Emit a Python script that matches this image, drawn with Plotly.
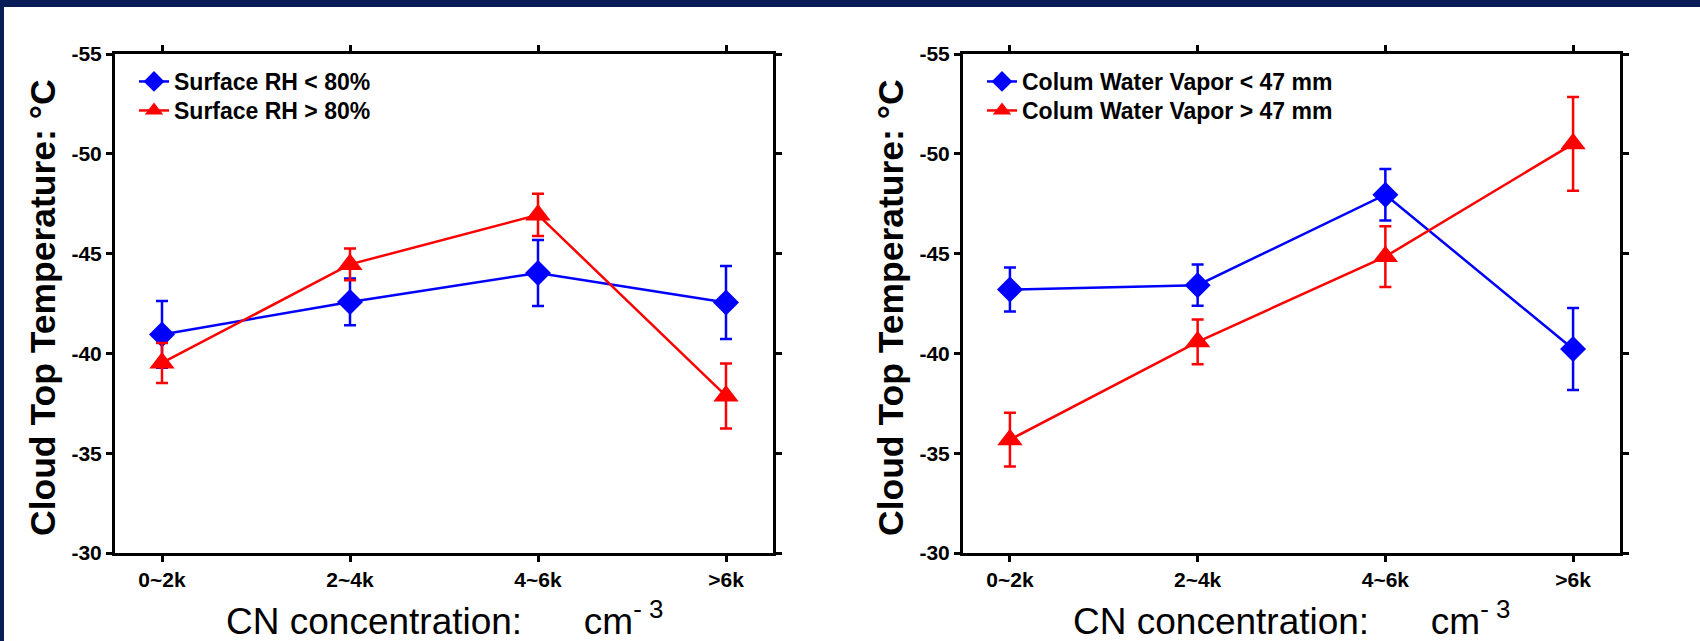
import plotly.graph_objects as go

W, H = 1700, 641

categories = ["0~2k", "2~4k", "4~6k", ">6k"]

# Left panel: Surface RH
rh_low = [-40.95, -42.58, -44.03, -42.55]
rh_low_err = [1.67, 1.17, 1.65, 1.83]
rh_high = [-39.52, -44.46, -46.94, -37.87]
rh_high_err = [1.0, 0.8, 1.06, 1.63]

# Right panel: Column water vapor
cwv_low = [-43.2, -43.42, -47.95, -40.22]
cwv_low_err = [1.1, 1.03, 1.29, 2.05]
cwv_high = [-35.68, -40.58, -44.85, -50.5]
cwv_high_err = [1.35, 1.12, 1.52, 2.35]

y_ticks = [-55, -50, -45, -40, -35, -30]
y_tick_labels = ["-55", "-50", "-45", "-40", "-35", "-30"]

names_left = ["Surface RH < 80%", "Surface RH > 80%"]
names_right = ["Colum Water Vapor < 47 mm", "Colum Water Vapor > 47 mm"]

BLUE = "#0000ff"
RED = "#ff0000"
NAVY = "#0a1c58"
FONT = "Liberation Sans, Arial, sans-serif"
NARROW = "Liberation Sans Narrow, Arial Narrow, Liberation Sans, sans-serif"

def px_x(p):
    return p / W

def px_y(p):
    return 1 - p / H

fig = go.Figure()

def add_pair(xa, ya, lgs, low, low_err, high, high_err, names):
    fig.add_trace(go.Scatter(
        x=categories, y=low, name=names[0], mode="lines+markers",
        xaxis=xa, yaxis=ya, legend=lgs[0],
        line=dict(color=BLUE, width=2.5),
        marker=dict(symbol="diamond", size=20, color=BLUE),
        error_y=dict(type="data", array=low_err, visible=True, color=BLUE, thickness=2.5, width=6),
    ))
    fig.add_trace(go.Scatter(
        x=categories, y=high, name=names[1], mode="lines+markers",
        xaxis=xa, yaxis=ya, legend=lgs[1],
        line=dict(color=RED, width=2.5),
        marker=dict(symbol="triangle-up", size=22, color=RED),
        error_y=dict(type="data", array=high_err, visible=True, color=RED, thickness=2.5, width=6),
    ))

add_pair("x", "y", ("legend", "legend2"), rh_low, rh_low_err, rh_high, rh_high_err, names_left)
add_pair("x2", "y2", ("legend3", "legend4"), cwv_low, cwv_low_err, cwv_high, cwv_high_err, names_right)

y_top, y_bot = 54, 553
xdoms = [(115, 773), (963, 1620)]

axis_common = dict(
    showline=True, linecolor="black", linewidth=3, mirror="ticks",
    ticks="outside", ticklen=6, tickwidth=3, tickcolor="black",
    showgrid=False, zeroline=False,
    tickfont=dict(family=NARROW, size=21, color="black", weight="bold"),
)

for i, (l, r) in enumerate(xdoms):
    sfx = "" if i == 0 else str(i + 1)
    fig.layout["xaxis" + sfx] = dict(
        axis_common, domain=[px_x(l), px_x(r)], anchor="y" + sfx,
        type="category", range=[-0.25, 3.25],
        categoryorder="array", categoryarray=categories,
    )
    fig.layout["yaxis" + sfx] = dict(
        axis_common, domain=[px_y(y_bot), px_y(y_top)], anchor="x" + sfx,
        range=[-30, -55], tickmode="array", tickvals=y_ticks, ticktext=y_tick_labels,
    )

annotations = []
for (l, r) in xdoms:
    annotations.append(dict(
        xref="paper", yref="paper", x=px_x(l - 72), y=px_y(308),
        text="Cloud Top Temperature: °C", textangle=-90, showarrow=False,
        xanchor="center", yanchor="middle",
        font=dict(family=FONT, size=35.5, color="black", weight="bold"),
    ))
    annotations.append(dict(
        xref="paper", yref="paper", x=px_x((l + r) / 2), y=px_y(618),
        text="CN concentration:&nbsp;&nbsp;&nbsp;&nbsp;&nbsp; cm<sup>- 3</sup>",
        showarrow=False, xanchor="center", yanchor="middle",
        font=dict(family=NARROW, size=37, color="black"),
    ))

legend_common = dict(
    bgcolor="rgba(0,0,0,0)", borderwidth=0,
    font=dict(family=FONT, size=23, color="black", weight="bold"),
    xanchor="left", yanchor="top", tracegroupgap=0, itemsizing="trace",
)

row_tops = [60, 89]
fig.update_layout(
    width=W, height=H,
    margin=dict(l=0, r=0, t=0, b=0, autoexpand=False),
    paper_bgcolor=NAVY, plot_bgcolor="white",
    showlegend=True,
    legend=dict(legend_common, x=px_x(134), y=px_y(row_tops[0])),
    legend2=dict(legend_common, x=px_x(134), y=px_y(row_tops[1])),
    legend3=dict(legend_common, x=px_x(982), y=px_y(row_tops[0])),
    legend4=dict(legend_common, x=px_x(982), y=px_y(row_tops[1])),
    annotations=annotations,
    shapes=[dict(type="rect", xref="paper", yref="paper",
                 x0=px_x(4), x1=1, y0=0, y1=px_y(7),
                 fillcolor="white", line=dict(width=0), layer="below")],
)

fig.write_html("out.html")
